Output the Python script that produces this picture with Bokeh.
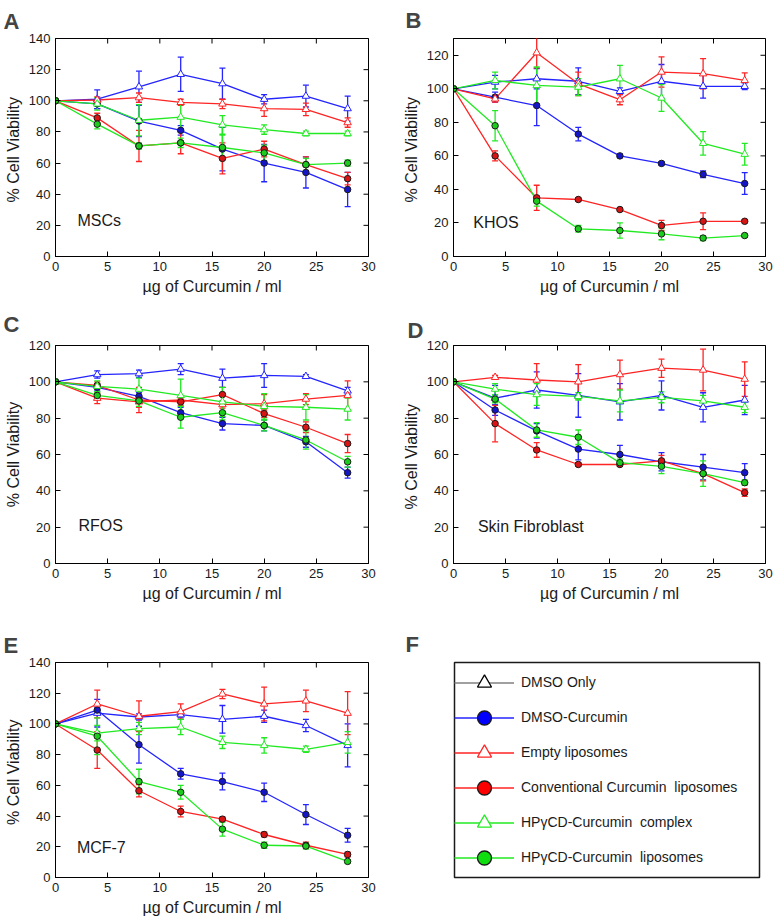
import math
from bokeh.plotting import figure
from bokeh.layouts import column, row
from bokeh.models import (Range1d, FixedTicker, Label, Whisker, TeeHead,
                          ColumnDataSource, Legend, LegendItem)
from bokeh.embed import file_html
from bokeh.resources import INLINE

FONT = "Liberation Sans"

conc = [0, 4, 8, 12, 16, 20, 24, 28]
x_ticks = [0, 5, 10, 15, 20, 25, 30]
x_label = "µg of Curcumin / ml"

series_names = ["DMSO Only", "DMSO-Curcumin", "Empty liposomes",
                "Conventional Curcumin  liposomes", "HPγCD-Curcumin  complex",
                "HPγCD-Curcumin  liposomes"]

# Panel A: MSCs
a_dmso_only = [100, 101, 109, 117, 111, 101, 103, 95]
a_dmso_only_err = [0, 6, 10, 11, 10, 3, 7, 8]
a_dmso_cur = [100, 98, 87, 81, 69, 60, 54, 43]
a_dmso_cur_err = [0, 3, 10, 3, 14, 12, 10, 11]
a_empty = [100, 100.5, 102, 99, 98, 95, 94.5, 86]
a_empty_err = [0, 2, 3, 2, 3, 5, 4, 3]
a_conv = [100, 89, 71, 73, 63, 69, 59, 50]
a_conv_err = [0, 3, 10, 7, 10, 5, 5, 4]
a_hp_cx = [100, 98, 87.5, 89.5, 84.5, 81.5, 79, 79]
a_hp_cx_err = [0, 4, 10, 9, 6, 3, 1.5, 1.5]
a_hp_lip = [100, 85, 71, 73, 70, 66.5, 59, 60]
a_hp_lip_err = [0, 3, 2, 3, 8, 5, 4, 2]

# Panel B: KHOS
b_dmso_only = [100, 104, 106, 104.5, 98.5, 104.5, 101.5, 101.5]
b_dmso_only_err = [0, 4, 6, 8, 2, 10, 7, 2]
b_dmso_cur = [100, 95, 90, 73, 60, 55.5, 49, 43.5]
b_dmso_cur_err = [0, 3, 12, 4, 1, 1, 2, 6.5]
b_empty = [100, 94, 121.5, 103, 93.5, 110, 109, 105]
b_empty_err = [0, 2, 9, 7, 3, 9, 9, 4.5]
b_conv = [100, 60, 35, 34, 28, 18.5, 21, 21]
b_conv_err = [0, 3, 7.5, 1, 1, 3, 5, 1]
b_hp_cx = [100, 105, 102, 101, 106, 94.5, 67.5, 61]
b_hp_cx_err = [0, 5, 11, 5, 8, 8, 7, 6.5]
b_hp_lip = [100, 78, 33, 16.5, 15.5, 13.5, 11, 12.5]
b_hp_lip_err = [0, 9, 3, 2, 4.5, 3.5, 1.5, 1]

# Panel C: RFOS
c_dmso_only = [100, 104, 104.5, 107, 102, 103.5, 103, 95]
c_dmso_only_err = [0, 2, 2, 3, 5, 6.5, 1, 2]
c_dmso_cur = [100, 97, 92, 83, 77, 76, 67, 50]
c_dmso_cur_err = [0, 2, 2, 3, 3.5, 3, 3, 3]
c_empty = [100, 91, 89, 90, 87.5, 88, 90.5, 92.5]
c_empty_err = [0, 3, 3, 2, 2, 5, 3, 8]
c_conv = [100, 98, 90, 89, 93, 82.5, 75, 66]
c_conv_err = [0, 2, 7, 2, 4, 2, 3, 5]
c_hp_cx = [100, 97.5, 96, 92.5, 89, 86.5, 86, 85]
c_hp_cx_err = [0, 3, 6, 9, 8, 7, 7, 6]
c_hp_lip = [100, 92.5, 89.5, 80.5, 83, 76, 68, 56]
c_hp_lip_err = [0, 2, 3, 6, 4, 3, 5, 3]

# Panel D: Skin Fibroblast
d_dmso_only = [100, 91, 95.5, 92.5, 89, 92.5, 86, 90]
d_dmso_only_err = [0, 7, 10, 12, 10, 8, 8, 8]
d_dmso_cur = [100, 84.5, 73, 63, 60, 56, 53, 50]
d_dmso_cur_err = [0, 3, 4, 6, 5, 5, 7, 5]
d_empty = [100, 102.5, 101, 100, 104, 107.5, 106.5, 101.5]
d_empty_err = [0, 1, 9, 9.5, 8, 5, 11.5, 9.5]
d_conv = [100, 77, 62.5, 54.5, 54.5, 56.5, 49.5, 39]
d_conv_err = [0, 10, 4, 1, 1, 3, 4, 2]
d_hp_cx = [100, 96, 93, 92, 89.5, 91.5, 89.5, 86]
d_hp_cx_err = [0, 3, 6, 2, 6, 3, 3, 3]
d_hp_lip = [100, 90.5, 73.5, 69.5, 55.5, 53.5, 49.5, 44.5]
d_hp_lip_err = [0, 2, 4, 4, 2, 4, 7, 1.5]

# Panel E: MCF-7
e_dmso_only = [100, 107, 104.5, 106, 103, 105, 99, 86]
e_dmso_only_err = [0, 9, 2, 2, 9, 4, 4, 14]
e_dmso_cur = [100, 109, 86.5, 67.5, 62.5, 55.5, 41, 27.5]
e_dmso_cur_err = [0, 2, 12, 3.5, 5.5, 6, 6.5, 4.5]
e_empty = [100, 113, 105, 108, 119.5, 113, 115, 107]
e_empty_err = [0, 9, 10, 5, 3, 11, 7, 14]
e_conv = [100, 83, 56.5, 43, 38, 28, 21, 15]
e_conv_err = [0, 12, 4, 3.5, 1.5, 1.5, 2, 1.5]
e_hp_cx = [100, 94, 97, 98, 88, 86, 83.5, 88]
e_hp_cx_err = [0, 5, 4, 5, 4, 5, 2, 7]
e_hp_lip = [100, 92, 62.5, 55.5, 31.5, 21, 20.5, 10.5]
e_hp_lip_err = [0, 12, 8, 4.5, 4.5, 2, 2, 1]

BLUE = "#2424ff"
RED = "#ff2424"
GREEN = "#22ea22"
EDGE = "#1a1a1a"

# style per series: (line color, marker, fill color, marker line color)
styles = [
    (BLUE, "triangle", "white", BLUE),
    (BLUE, "circle", "#1515c8", EDGE),
    (RED, "triangle", "white", RED),
    (RED, "circle", "#d81414", EDGE),
    (GREEN, "triangle", "white", GREEN),
    (GREEN, "circle", "#1ccc1c", EDGE),
]


def style_axis(ax):
    ax.axis_line_color = "black"
    ax.major_tick_in = 5
    ax.major_tick_out = 0
    ax.minor_tick_in = 0
    ax.minor_tick_out = 0
    ax.major_tick_line_color = "black"
    ax.major_label_text_font = FONT
    ax.major_label_text_color = "#1a1a1a"
    ax.major_label_text_font_size = "13px"
    ax.major_label_standoff = 5
    ax.axis_label_text_font = FONT
    ax.axis_label_text_font_style = "normal"
    ax.axis_label_text_font_size = "16px"
    ax.axis_label_text_color = "#1a1a1a"
    ax.axis_label_standoff = 4


def make_panel(letter, name, name_x, name_y, series, errs, ymax, yticks, ylab,
               width, height, bl, br, bt, bb, title_offset, title_standoff):
    p = figure(width=width, height=height, x_range=Range1d(0, 30), y_range=Range1d(0, ymax),
               output_backend="svg", toolbar_location=None,
               min_border_left=bl, min_border_right=br, min_border_top=bt, min_border_bottom=bb)
    p.grid.visible = False
    p.outline_line_color = "black"
    p.outline_line_width = 1
    p.background_fill_color = "white"
    p.border_fill_color = "white"

    p.xaxis.ticker = FixedTicker(ticks=x_ticks)
    p.yaxis.ticker = FixedTicker(ticks=yticks)
    p.xaxis.axis_label = x_label
    p.yaxis.axis_label = ylab
    for ax in p.xaxis + p.yaxis:
        style_axis(ax)

    # mirrored inward ticks on top and right edges (half of each dash is clipped by the frame)
    p.scatter(x=x_ticks, y=[ymax] * len(x_ticks), marker="dash", angle=math.pi / 2,
              size=10, line_color="black", line_width=1)
    p.scatter(x=[30] * len(yticks), y=yticks, marker="dash",
              size=10, line_color="black", line_width=1)

    p.title.text = letter
    p.title.text_font = FONT
    p.title.text_font_size = "22px"
    p.title.text_font_style = "bold"
    p.title.align = "left"
    p.title.offset = title_offset
    p.title.standoff = title_standoff

    # lines and error bars first
    for vals, err, (lc, mk, fc, ec) in zip(series, errs, styles):
        p.line(conc, vals, line_color=lc, line_width=1.3)
        xs = [c for c, e in zip(conc, err) if e > 0]
        up = [v + e for v, e in zip(vals, err) if e > 0]
        lo = [v - e for v, e in zip(vals, err) if e > 0]
        src = ColumnDataSource(dict(x=xs, upper=up, lower=lo))
        w = Whisker(source=src, base="x", upper="upper", lower="lower",
                    line_color=lc, line_width=1.3,
                    upper_head=TeeHead(size=6, line_color=lc, line_width=1.3),
                    lower_head=TeeHead(size=6, line_color=lc, line_width=1.3))
        p.add_layout(w)
    for vals, err, (lc, mk, fc, ec) in zip(series, errs, styles):
        size = 7.5 if mk == "triangle" else 6.5
        p.scatter(conc, vals, marker=mk, size=size, fill_color=fc, line_color=ec, line_width=1)

    p.add_layout(Label(x=name_x, y=name_y, text=name, text_font=FONT, text_font_size="16px",
                       text_color="#1a1a1a", text_baseline="middle"))
    return p


LW, RW = 385, 390  # column widths

pA = make_panel("A", "MSCs", 2.1, 23,
                [a_dmso_only, a_dmso_cur, a_empty, a_conv, a_hp_cx, a_hp_lip],
                [a_dmso_only_err, a_dmso_cur_err, a_empty_err, a_conv_err, a_hp_cx_err, a_hp_lip_err],
                140, [0, 20, 40, 60, 80, 100, 120, 140], "%  Cell Viability",
                LW, 300, 55, 17, 36, 44, -52, 9)
pB = make_panel("B", "KHOS", 1.9, 20,
                [b_dmso_only, b_dmso_cur, b_empty, b_conv, b_hp_cx, b_hp_lip],
                [b_dmso_only_err, b_dmso_cur_err, b_empty_err, b_conv_err, b_hp_cx_err, b_hp_lip_err],
                130, [0, 20, 40, 60, 80, 100, 120], "%  Cell Viability",
                RW, 300, 68, 10, 38, 43, -48, 11)
pC = make_panel("C", "RFOS", 2.2, 21,
                [c_dmso_only, c_dmso_cur, c_empty, c_conv, c_hp_cx, c_hp_lip],
                [c_dmso_only_err, c_dmso_cur_err, c_empty_err, c_conv_err, c_hp_cx_err, c_hp_lip_err],
                120, [0, 20, 40, 60, 80, 100, 120], "% Cell Viability",
                LW, 305, 55, 17, 45, 40, -52, 18)
pD = make_panel("D", "Skin Fibroblast", 2.35, 20.4,
                [d_dmso_only, d_dmso_cur, d_empty, d_conv, d_hp_cx, d_hp_lip],
                [d_dmso_only_err, d_dmso_cur_err, d_empty_err, d_conv_err, d_hp_cx_err, d_hp_lip_err],
                120, [0, 20, 40, 60, 80, 100, 120], "%  Cell Viability",
                RW, 305, 68, 10, 43, 42, -46, 6)
pE = make_panel("E", "MCF-7", 2.05, 19.8,
                [e_dmso_only, e_dmso_cur, e_empty, e_conv, e_hp_cx, e_hp_lip],
                [e_dmso_only_err, e_dmso_cur_err, e_empty_err, e_conv_err, e_hp_cx_err, e_hp_lip_err],
                140, [0, 20, 40, 60, 80, 100, 120, 140], "%  Cell Viability",
                LW, 315, 55, 17, 55, 43, -52, 10)

# Panel F: legend box
pF = figure(width=RW, height=315, x_range=Range1d(0, 1), y_range=Range1d(0, 1),
            output_backend="svg", toolbar_location=None,
            x_axis_location=None, y_axis_location=None,
            min_border_left=69, min_border_right=16, min_border_top=57, min_border_bottom=42)
pF.grid.visible = False
pF.outline_line_color = "#1a1a1a"
pF.outline_line_width = 1.5
pF.title.text = "F"
pF.title.text_font = FONT
pF.title.text_font_size = "22px"
pF.title.text_font_style = "bold"
pF.title.align = "left"
pF.title.offset = -49
pF.title.standoff = 12

legend_styles = [
    ("#808080", "triangle", "white", "black"),
    (BLUE, "circle", "#0000ff", EDGE),
    (RED, "triangle", "white", RED),
    (RED, "circle", "#ff0000", EDGE),
    (GREEN, "triangle", "white", GREEN),
    (GREEN, "circle", "#10dd10", EDGE),
]
nan = float("nan")
items = []
for nm, (lc, mk, fc, ec) in zip(series_names, legend_styles):
    lr = pF.line(x=[nan], y=[nan], line_color=lc, line_width=1.5)
    sr = pF.scatter(x=[nan], y=[nan], marker=mk, fill_color=fc, line_color=ec, line_width=1.3)
    items.append(LegendItem(label=nm, renderers=[lr, sr]))
leg = Legend(items=items, location="left", margin=0, padding=9,
             glyph_width=60, glyph_height=35, spacing=0, label_height=35,
             label_standoff=7, label_text_font=FONT, label_text_font_size="14px",
             label_text_color="#1a1a1a", border_line_color=None,
             background_fill_alpha=0)
pF.add_layout(leg)

layout = column(row(pA, pB), row(pC, pD), row(pE, pF))

with open("out.html", "w") as f:
    f.write(file_html(layout, INLINE))
